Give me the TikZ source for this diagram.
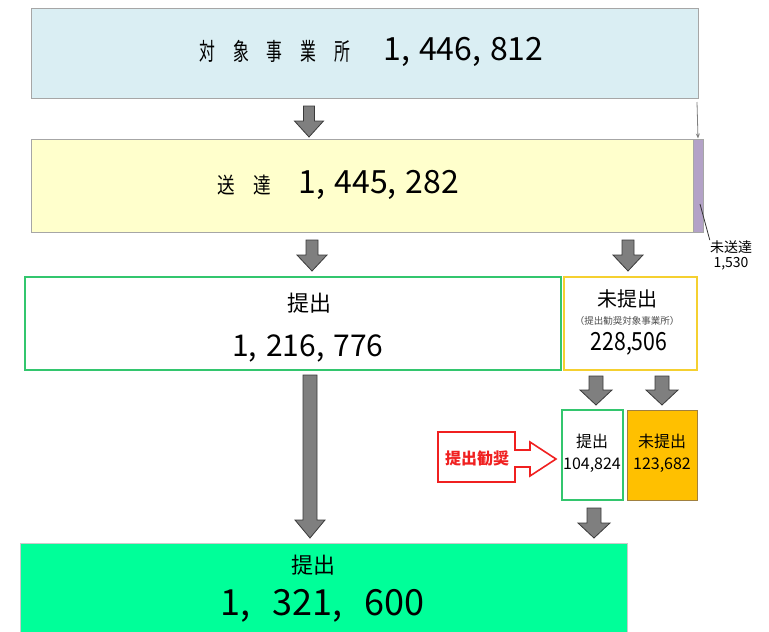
\documentclass[tikz,border=0pt]{standalone}
\usepackage{fontspec}
\setmainfont{Noto Sans CJK JP}
\usetikzlibrary{arrows.meta}
\definecolor{topblue}{HTML}{DAEEF3}
\definecolor{sendyellow}{HTML}{FFFFCC}
\definecolor{boxgray}{HTML}{A6A6A6}
\definecolor{strippurple}{HTML}{B3A2C7}
\definecolor{okgreen}{HTML}{33C66E}
\definecolor{notyellow}{HTML}{F5D030}
\definecolor{notorange}{HTML}{FFC000}
\definecolor{orangeedge}{HTML}{A08040}
\definecolor{finalgreen}{HTML}{00FF99}
\definecolor{arrowgray}{HTML}{7F7F7F}
\definecolor{arrowedge}{HTML}{3A3A3A}
\definecolor{urgered}{HTML}{F02020}
\newcommand{\blkarrow}[6]{% x, ytop, ybottom, shaft width, head width, head length
  \draw[blk] ({#1-#4/2},#2) -- ({#1+#4/2},#2) -- ({#1+#4/2},{#3-#6}) -- ({#1+#5/2},{#3-#6})
    -- (#1,#3) -- ({#1-#5/2},{#3-#6}) -- ({#1-#4/2},{#3-#6}) -- cycle;}
\newcommand{\fs}[1]{\fontsize{#1}{#1}\selectfont}
\newcommand{\cj}[2]{\scalebox{#1}[1]{#2}}
\begin{document}
\begin{tikzpicture}[x=1pt,y=-1pt,
  box/.style={draw=boxgray, line width=1pt, inner sep=0pt, rectangle},
  blk/.style={fill=arrowgray, draw=arrowedge, line width=0.8pt, line join=miter},
  txt/.style={inner sep=0pt, text=black},
  ]
\useasboundingbox (0,0) rectangle (769,632);
% top box
\node[box, fill=topblue, minimum width=667pt, minimum height=90pt] (top) at (364.5,53) {};
\node[txt, anchor=west] (toptext) at (199,52) {\fs{24}\cj{0.66}{対}\hspace{18pt}\cj{0.66}{象}\hspace{18pt}\cj{0.66}{事}\hspace{18pt}\cj{0.66}{業}\hspace{18pt}\cj{0.66}{所}\hspace{33pt}\fs{32}1,\hspace{9pt}446,\hspace{9pt}812};
% send box
\node[box, fill=sendyellow, minimum width=662pt, minimum height=93pt] (send) at (362,185.5) {};
\node[box, fill=strippurple, minimum width=10pt, minimum height=93pt] (strip) at (698,185.5) {};
\node[txt, anchor=west] (sendtext) at (217.5,185) {\fs{22}\cj{0.8}{送}\hspace{18pt}\cj{0.8}{達}\hspace{28pt}\fs{32}1,\hspace{9pt}445,\hspace{9pt}282};
% unsent label
\node[txt, align=center] (unsent) at (731,255) {\fs{14}未送達\\[3pt]\fs{14}1,530};
\coordinate (stripmark) at (700,204);
\draw[black!80, line width=0.8pt] (stripmark) -- (unsent.north west);
\coordinate (thinstart) at (697,102);
\draw[gray, line width=0.8pt, -{Stealth[length=5pt,width=4pt]}] (thinstart) -- (strip.north);
% submitted box
\node[box, draw=okgreen, line width=2pt, fill=white, minimum width=536pt, minimum height=93pt] (sub) at (293,323.5) {};
\node[txt] (subt1) at (309,303) {\fs{22}提出};
\node[txt, anchor=west] (subt2) at (232,348) {\fs{30}1,\hspace{9pt}216,\hspace{9pt}776};
% not submitted box
\node[box, draw=notyellow, line width=2pt, fill=white, minimum width=133pt, minimum height=93pt] (unsub) at (630,323.5) {};
\node[txt] (unsubt1) at (627,299) {\fs{20}未提出};
\node[txt, text=black!70] (unsubt2) at (627,321) {\fs{9.5}（提出勧奨対象事業所）};
\node[txt] (unsubt3) at (629,344) {\scalebox{0.85}[1]{\fs{25}228,506}};
% small boxes
\node[box, draw=okgreen, line width=2pt, fill=white, minimum width=61pt, minimum height=90pt] (late) at (592,455) {};
\node[txt, align=center] (latet) at (592,453) {\fs{16}提出\\[8pt]\fs{16}104,824};
\node[box, draw=orangeedge, line width=0.8pt, fill=notorange, minimum width=70pt, minimum height=90pt] (never) at (662,455) {};
\node[txt, align=center] (nevert) at (662,453) {\fs{16}未提出\\[8pt]\fs{16}123,682};
% urge arrow
\draw[urgered, line width=1.6pt, fill=white, line join=miter]
  (438,432) -- (515,432) -- (515,450) -- (530,450) -- (530,442) -- (556,459)
  -- (530,476) -- (530,467) -- (515,467) -- (515,482) -- (438,482) -- cycle;
\node[txt, text=urgered] (urge) at (477,458) {\fs{16}\textbf{提出勧奨}};
% final box
\node[box, draw=boxgray!60, fill=finalgreen, minimum width=607pt, minimum height=92pt] (final) at (323.5,589) {};
\node[txt] (finalt1) at (313,565) {\fs{22}提出};
\node[txt, anchor=west] (finalt2) at (220,606) {\fs{36}1,\hspace{22pt}321,\hspace{22pt}600};
% block arrows
\blkarrow{309}{106}{137}{11}{29}{16}
\blkarrow{312}{240}{271}{12}{30}{16}
\blkarrow{628}{240}{271}{12}{30}{16}
\blkarrow{310}{375}{538}{14}{30}{18}
\blkarrow{596}{376}{405}{14}{32}{15}
\blkarrow{662}{376}{405}{14}{32}{15}
\blkarrow{594}{508}{538}{14}{32}{15}
\end{tikzpicture}
\end{document}
